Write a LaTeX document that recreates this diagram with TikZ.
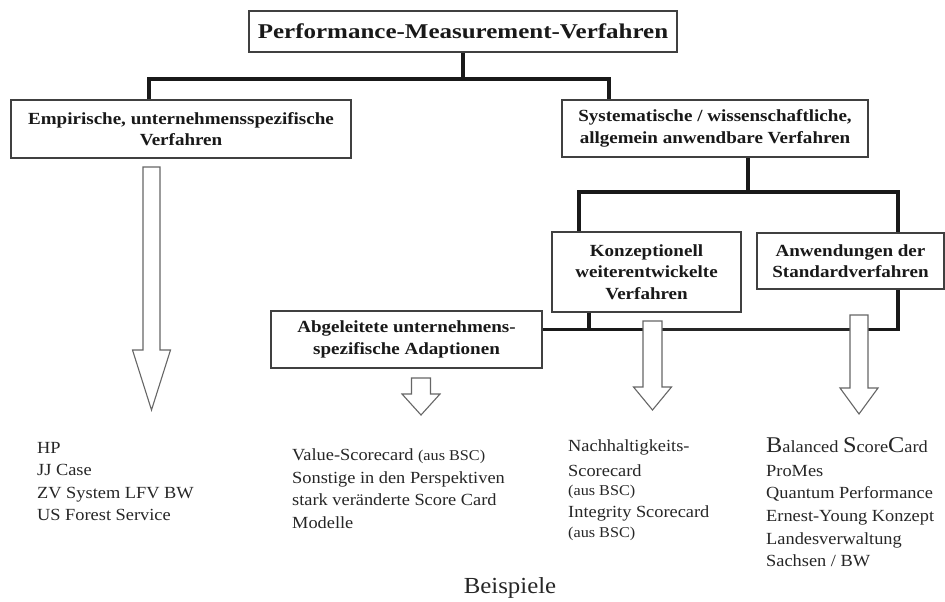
\documentclass[tikz,border=0pt]{standalone}
\usepackage{fontspec}
\setmainfont{Liberation Serif}
\newfontfamily\titlefont{Liberation Serif}[FakeStretch=1.19]
\newfontfamily\boxfont{Liberation Serif}[FakeStretch=1.12]
\newfontfamily\lstfont{Liberation Serif}[FakeStretch=1.08]
\newcommand\blockarr[6]{% cx, ytop, yhead, ytip, shaft half, head half
  \draw[barrow] (#1-#5,#2) -- (#1+#5,#2) -- (#1+#5,#3) -- (#1+#6,#3) -- (#1,#4) -- (#1-#6,#3) -- (#1-#5,#3) -- cycle;}
\newcommand\smallaus{{\fontsize{15}{17}\selectfont(aus BSC)}}
\newcommand\bigini[1]{{\fontsize{22.5}{24}\selectfont #1}}
\begin{document}
\begin{tikzpicture}[x=1pt,y=-1pt,
  box/.style={draw=black!75,line width=1.3pt,fill=white,align=center,inner sep=0pt,
    font=\boxfont\bfseries\fontsize{17}{21.5}\selectfont,text=black!90},
  conn/.style={line width=3.8pt,black!90},
  thinconn/.style={line width=2.2pt,black!85},
  barrow/.style={draw=black!60,line width=1.1pt,fill=white,line join=miter},
  lst/.style={align=left,anchor=north west,inner sep=0pt,font=\lstfont\fontsize{17}{22.6}\selectfont,text=black!85}]
\useasboundingbox (0,0) rectangle (945,602);

% boxes
\node[box,font=\titlefont\bfseries\fontsize{21}{24}\selectfont,minimum width=428pt,minimum height=41pt] (top) at (463,31.5) {Performance-Measurement-Verfahren};
\node[box,minimum width=340pt,minimum height=58pt] (emp) at (181,129) {Empirische, unternehmensspezifische\\Verfahren};
\node[box,minimum width=306pt,minimum height=57pt] (sys) at (715,128.5) {Systematische / wissenschaftliche,\\allgemein anwendbare Verfahren};
\node[box,minimum width=189pt,minimum height=80pt] (konz) at (646.5,272) {Konzeptionell\\weiterentwickelte\\Verfahren};
\node[box,minimum width=187pt,minimum height=56pt] (anw) at (850.5,261) {Anwendungen der\\Standardverfahren};
\node[box,minimum width=271pt,minimum height=57pt] (abg) at (406.5,339.5) {Abgeleitete unternehmens-\\spezifische Adaptionen};

% connectors
\draw[conn] (top.south) -- ++(0,26);
\draw[conn] ([xshift=-32pt]emp.north) |- ([yshift=-26pt]top.south) -| ([xshift=-106pt]sys.north);
\draw[conn] ([xshift=33pt]sys.south) -- ++(0,34);
\draw[conn] ([xshift=-67.5pt]konz.north) |- ([xshift=33pt,yshift=-34pt]sys.south) -| ([xshift=47.5pt]anw.north);
\coordinate (b3a) at (859,329.5);
\coordinate (b3b) at (652,329.5);
\draw[conn] ([xshift=47.5pt]anw.south) |- (b3a);
\draw[thinconn] (b3a) -- (b3b);
\draw[conn] (b3b) -- ([yshift=10pt]abg.east);
\draw[conn] ([xshift=-57.5pt]konz.south) -- ++(0,17.5);

% block arrows
\blockarr{151.5}{167}{350}{410}{8.5}{19}
\blockarr{421}{378}{394}{415}{9.5}{19}
\blockarr{652.5}{321}{387}{410}{9.5}{19}
\blockarr{859}{315}{388}{414}{9}{19}

% examples
\node[lst] (ex1) at (37,441.7) {HP\\JJ Case\\ZV System LFV BW\\US Forest Service};
\node[lst] (ex2) at (292,448.7) {Value-Scorecard \smallaus\\Sonstige in den Perspektiven\\stark ver\"anderte Score Card\\Modelle};
\node[lst] (ex3) at (568,439.4) {Nachhaltigkeits-\\[2.4pt]Scorecard\\[-3.6pt]\smallaus\\[-0.6pt]Integrity Scorecard\\[-2.6pt]\smallaus};
\node[lst] (ex4) at (766,437) {\bigini{B}alanced \bigini{S}core\bigini{C}ard\\[1.5pt]ProMes\\Quantum Performance\\Ernest-Young Konzept\\Landesverwaltung\\Sachsen / BW};
\node[inner sep=0pt,anchor=base,font=\lstfont\fontsize{23}{26}\selectfont,text=black!85] (bsp) at (510,593) {Beispiele};
\end{tikzpicture}
\end{document}
